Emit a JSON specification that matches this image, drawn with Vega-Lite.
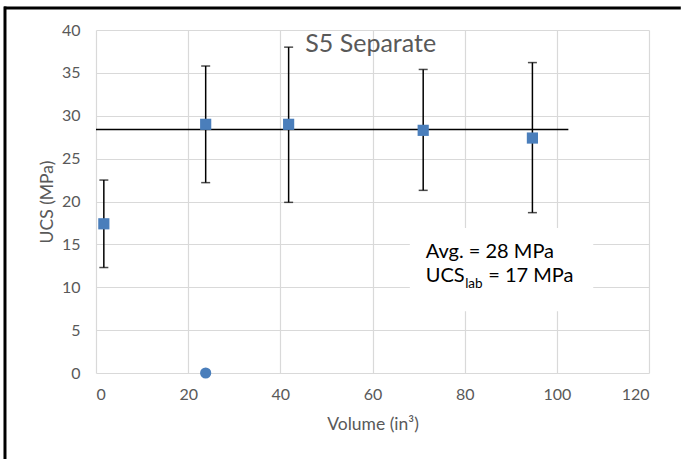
{
  "$schema": "https://vega.github.io/schema/vega-lite/v6.json",
  "width": 553,
  "height": 343,
  "autosize": {"type": "none"},
  "padding": {"left": 96, "top": 30, "right": 32, "bottom": 86},
  "background": "white",
  "config": {
    "view": {"stroke": null},
    "font": "Lato",
    "axis": {
      "grid": true,
      "gridColor": "#d9d9d9",
      "gridWidth": 1.2,
      "domain": false,
      "ticks": false,
      "labelFont": "Lato",
      "labelFontSize": 16,
      "labelColor": "#595959",
      "titleFont": "Lato",
      "titleFontSize": 17.5,
      "titleFontWeight": "normal",
      "titleColor": "#595959"
    }
  },
  "datasets": {
    "pts": [
      {"volume": 1.7, "ucs": 17.4, "lo": 12.3, "hi": 22.5},
      {"volume": 23.8, "ucs": 29.0, "lo": 22.2, "hi": 35.8},
      {"volume": 41.8, "ucs": 29.0, "lo": 19.9, "hi": 38.0},
      {"volume": 71.0, "ucs": 28.3, "lo": 21.3, "hi": 35.4},
      {"volume": 94.7, "ucs": 27.4, "lo": 18.7, "hi": 36.2}
    ],
    "zero": [{"volume": 23.8, "ucs": 0}],
    "avg": [{"x1": 0, "x2": 102.5, "avg": 28.4}],
    "box": [{"x1": 68.1, "x2": 107.9, "y1": 7.2, "y2": 16.9}]
  },
  "layer": [
    {
      "data": {"name": "box"},
      "mark": {"type": "rect", "fill": "white"},
      "encoding": {
        "x": {"field": "x1", "type": "quantitative", "scale": {"domain": [0, 120], "nice": false, "zero": false},
              "axis": {"values": [0, 20, 40, 60, 80, 100, 120], "title": "Volume (in³)", "labelPadding": 13, "titlePadding": 13}},
        "x2": {"field": "x2"},
        "y": {"field": "y1", "type": "quantitative", "scale": {"domain": [0, 40], "nice": false, "zero": false},
              "axis": {"values": [0, 5, 10, 15, 20, 25, 30, 35, 40], "title": "UCS (MPa)", "labelPadding": 16, "titlePadding": 5}},
        "y2": {"field": "y2"}
      }
    },
    {
      "data": {"name": "avg"},
      "mark": {"type": "rule", "color": "black", "strokeWidth": 1.5},
      "encoding": {
        "x": {"field": "x1", "type": "quantitative"},
        "x2": {"field": "x2"},
        "y": {"field": "avg", "type": "quantitative"}
      }
    },
    {
      "data": {"name": "pts"},
      "mark": {"type": "rule", "color": "black", "strokeWidth": 1.5},
      "encoding": {
        "x": {"field": "volume", "type": "quantitative"},
        "y": {"field": "lo", "type": "quantitative"},
        "y2": {"field": "hi"}
      }
    },
    {
      "data": {"name": "pts"},
      "mark": {"type": "tick", "color": "black", "orient": "horizontal", "size": 9, "thickness": 1.5},
      "encoding": {
        "x": {"field": "volume", "type": "quantitative"},
        "y": {"field": "lo", "type": "quantitative"}
      }
    },
    {
      "data": {"name": "pts"},
      "mark": {"type": "tick", "color": "black", "orient": "horizontal", "size": 9, "thickness": 1.5},
      "encoding": {
        "x": {"field": "volume", "type": "quantitative"},
        "y": {"field": "hi", "type": "quantitative"}
      }
    },
    {
      "data": {"name": "pts"},
      "mark": {"type": "square", "color": "#4a7ebb", "opacity": 1, "size": 125, "cornerRadius": 3},
      "encoding": {
        "x": {"field": "volume", "type": "quantitative"},
        "y": {"field": "ucs", "type": "quantitative"}
      }
    },
    {
      "data": {"name": "zero"},
      "mark": {"type": "circle", "color": "#4a7ebb", "opacity": 1, "size": 125},
      "encoding": {
        "x": {"field": "volume", "type": "quantitative"},
        "y": {"field": "ucs", "type": "quantitative"}
      }
    },
    {
      "data": {"values": [{"x": 59.6, "y": 37.43, "label": "S5 Separate"}]},
      "mark": {"type": "text", "font": "Lato", "fontSize": 25, "color": "#595959", "align": "center", "baseline": "alphabetic"},
      "encoding": {
        "x": {"field": "x", "type": "quantitative"},
        "y": {"field": "y", "type": "quantitative"},
        "text": {"field": "label"}
      }
    },
    {
      "data": {"values": [
        {"x": 71.55, "y": 13.41, "label": "Avg. = 28 MPa"},
        {"x": 71.55, "y": 10.61, "label": "UCS"},
        {"x": 85.1, "y": 10.61, "label": "= 17 MPa"}
      ]},
      "mark": {"type": "text", "font": "Lato", "fontSize": 20, "color": "black", "align": "left", "baseline": "alphabetic"},
      "encoding": {
        "x": {"field": "x", "type": "quantitative"},
        "y": {"field": "y", "type": "quantitative"},
        "text": {"field": "label"}
      }
    },
    {
      "data": {"values": [{"x": 80.1, "y": 9.91, "label": "lab"}]},
      "mark": {"type": "text", "font": "Lato", "fontSize": 13.5, "color": "black", "align": "left", "baseline": "alphabetic"},
      "encoding": {
        "x": {"field": "x", "type": "quantitative"},
        "y": {"field": "y", "type": "quantitative"},
        "text": {"field": "label"}
      }
    },
    {
      "data": {"values": [{"x1": -19.96, "x2": 126.9, "y": 42.57}]},
      "mark": {"type": "rule", "color": "black", "strokeWidth": 3},
      "encoding": {
        "x": {"field": "x1", "type": "quantitative"},
        "x2": {"field": "x2"},
        "y": {"field": "y", "type": "quantitative"}
      }
    },
    {
      "data": {"values": [{"x": -19.75, "y1": 42.74, "y2": -10.1}]},
      "mark": {"type": "rule", "color": "black", "strokeWidth": 3},
      "encoding": {
        "x": {"field": "x", "type": "quantitative"},
        "y": {"field": "y1", "type": "quantitative"},
        "y2": {"field": "y2"}
      }
    }
  ]
}
